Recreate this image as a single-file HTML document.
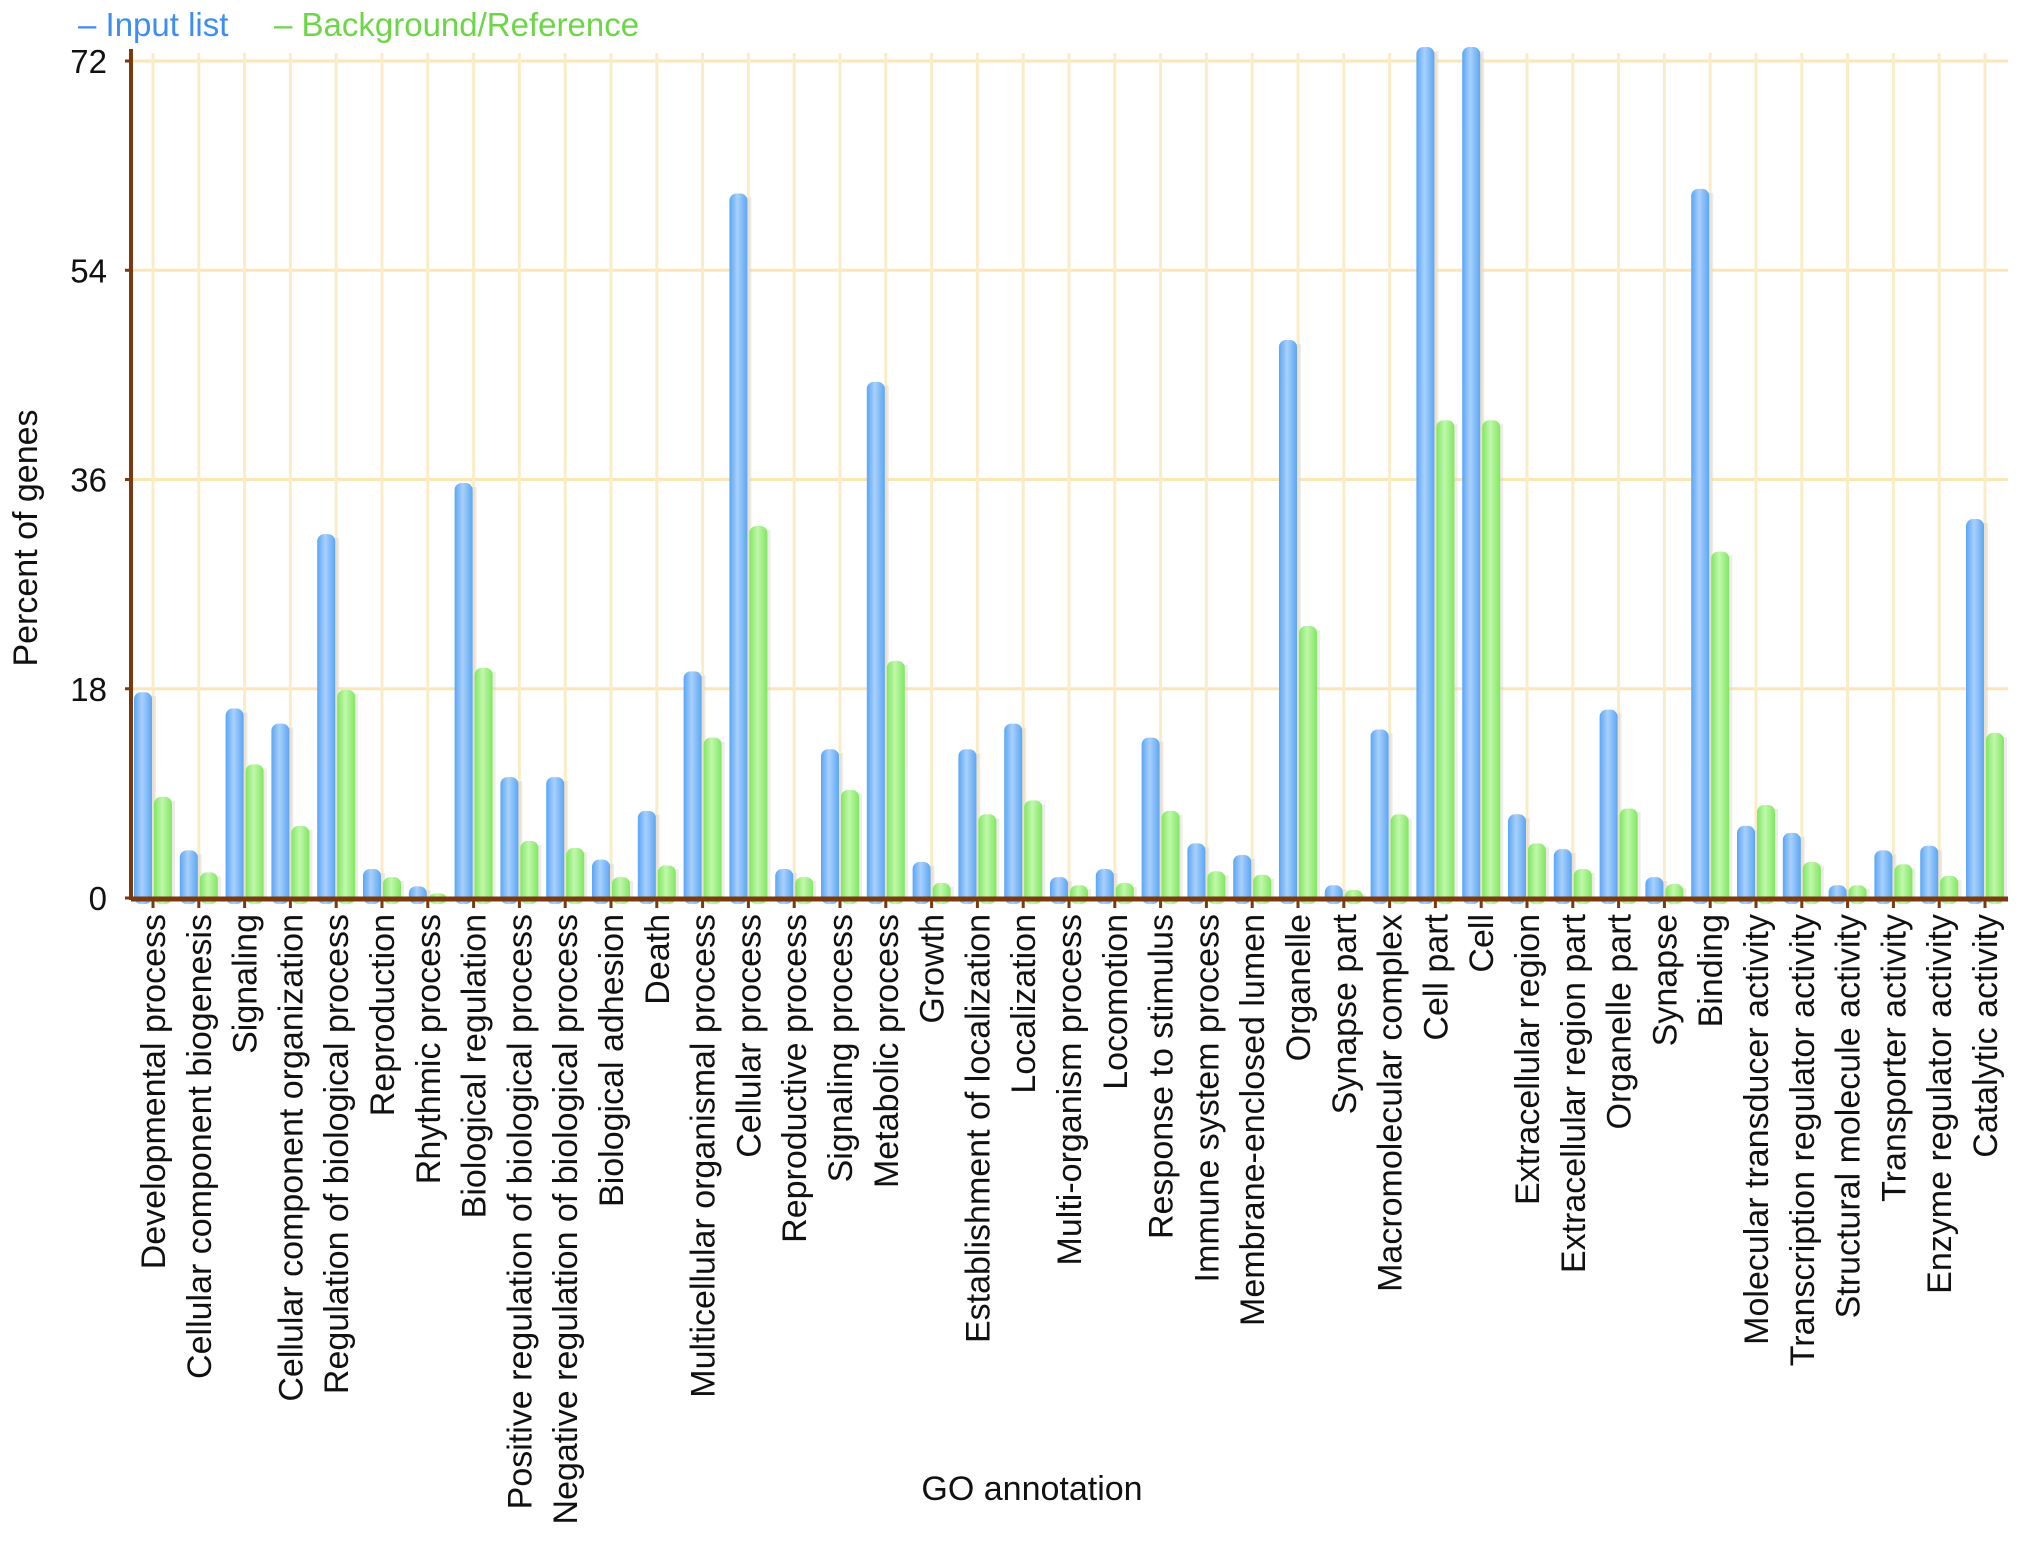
<!DOCTYPE html>
<html><head><meta charset="utf-8"><style>
html,body{margin:0;padding:0;background:#fff;}
svg{display:block;font-family:"Liberation Sans",Arial,sans-serif;}
</style></head><body>
<svg id="chart" width="2031" height="1546" viewBox="0 0 2031 1546" xmlns="http://www.w3.org/2000/svg">
<defs>
<linearGradient id="gb" x1="0" x2="1" y1="0" y2="0"><stop offset="0" stop-color="#5aa6f5"/><stop offset="0.45" stop-color="#a9d0fb"/><stop offset="1" stop-color="#5aa6f5"/></linearGradient>
<linearGradient id="gg" x1="0" x2="1" y1="0" y2="0"><stop offset="0" stop-color="#7fe860"/><stop offset="0.45" stop-color="#c2f7ad"/><stop offset="1" stop-color="#7fe860"/></linearGradient>
</defs>
<g id="grid"></g>
<g id="bars"></g>
<g id="axes"></g>
<g id="labels"></g>
<text x="78" y="36" font-size="33" fill="#3d8ef0">– Input list</text>
<text x="274" y="36" font-size="33" fill="#6cd648">– Background/Reference</text>
<text transform="translate(37,538) rotate(-90)" text-anchor="middle" font-size="34" fill="#111">Percent of genes</text>
<text x="1032" y="1500" text-anchor="middle" font-size="34" fill="#111">GO annotation</text>
</svg>
<script>
const categories = ["Developmental process","Cellular component biogenesis","Signaling","Cellular component organization","Regulation of biological process","Reproduction","Rhythmic process","Biological regulation","Positive regulation of biological process","Negative regulation of biological process","Biological adhesion","Death","Multicellular organismal process","Cellular process","Reproductive process","Signaling process","Metabolic process","Growth","Establishment of localization","Localization","Multi-organism process","Locomotion","Response to stimulus","Immune system process","Membrane-enclosed lumen","Organelle","Synapse part","Macromolecular complex","Cell part","Cell","Extracellular region","Extracellular region part","Organelle part","Synapse","Binding","Molecular transducer activity","Transcription regulator activity","Structural molecule activity","Transporter activity","Enzyme regulator activity","Catalytic activity"];
const inputList = [17.7,4.1,16.3,15.0,31.3,2.5,1.0,35.7,10.4,10.4,3.3,7.5,19.5,60.6,2.5,12.8,44.4,3.1,12.8,15.0,1.8,2.5,13.8,4.7,3.7,48.0,1.1,14.5,73.2,73.2,7.2,4.2,16.2,1.8,61.0,6.2,5.6,1.1,4.1,4.5,32.6];
const background = [8.7,2.2,11.5,6.2,17.9,1.8,0.4,19.8,4.9,4.3,1.8,2.8,13.8,32.0,1.8,9.3,20.4,1.3,7.2,8.4,1.1,1.3,7.5,2.3,2.0,23.4,0.7,7.2,41.1,41.1,4.7,2.5,7.7,1.2,29.8,8.0,3.1,1.1,2.9,1.9,14.2];
const yTicks = [0,18,36,54,72];

const NS="http://www.w3.org/2000/svg";
const X0=131, XR=2008, Y0=898, YT=61, YMAX=72;
const first=153, step=(1985-153)/40;
function xPos(i){return first+i*step;}
function yPos(v){return Y0-(v/YMAX)*(Y0-YT);}
function mk(tag,attrs,parent){const e=document.createElementNS(NS,tag);for(const k in attrs)e.setAttribute(k,attrs[k]);parent.appendChild(e);return e;}
const grid=document.getElementById('grid'),bars=document.getElementById('bars'),axes=document.getElementById('axes'),labels=document.getElementById('labels');

yTicks.forEach(t=>{
  if(t>0){const l=mk('line',{x1:X0,x2:XR,y1:yPos(t),y2:yPos(t),stroke:'#fbe6b8','stroke-width':3},grid);
  
  }
  const tk=mk('line',{x1:X0-6,x2:X0,y1:yPos(t),y2:yPos(t),stroke:'#7a3a0e','stroke-width':3},axes);
  
  
  const tx=mk('text',{x:X0-24,y:yPos(t)+12,'text-anchor':'end','font-size':33,fill:'#111'},axes);
  tx.textContent=t;
  
  
});
categories.forEach((c,i)=>{
  const x=xPos(i);
  const g=mk('line',{x1:x,x2:x,y1:YT-8,y2:Y0,stroke:'#fbecc8','stroke-width':3},grid);
  
  
  const bw=18;
  const hb=Y0-yPos(inputList[i]);
  const sb=mk('rect',{x:x-bw+3,y:yPos(inputList[i])+4,width:bw,height:Math.max(hb-4,0),fill:'#d9d2cc',opacity:0.45},bars);
  
  
  const b=mk('rect',{x:x-bw-1,y:yPos(inputList[i]),width:bw,height:hb+6,rx:7,fill:'url(#gb)'},bars);
  
  
  const hg=Y0-yPos(background[i]);
  const sg=mk('rect',{x:x+4,y:yPos(background[i])+4,width:bw,height:Math.max(hg-4,0),fill:'#d9d2cc',opacity:0.45},bars);
  
  
  const gb=mk('rect',{x:x+1,y:yPos(background[i]),width:bw,height:hg+6,rx:7,fill:'url(#gg)'},bars);
  
  
  const tk=mk('line',{x1:x,x2:x,y1:Y0,y2:Y0+10,stroke:'#7a3a0e','stroke-width':3},axes);
  
  
  const t=mk('text',{transform:`translate(${x+12},${Y0+16}) rotate(-90)`,'text-anchor':'end','font-size':34,fill:'#111'},labels);
  t.textContent=c;
  
  
});
const ya=mk('line',{x1:X0,x2:X0,y1:YT-12,y2:Y0+2,stroke:'#7a3a0e','stroke-width':4},axes);


const xa=mk('line',{x1:X0,x2:XR,y1:Y0+1,y2:Y0+1,stroke:'#7a3a0e','stroke-width':5},axes);


</script>
</body></html>
